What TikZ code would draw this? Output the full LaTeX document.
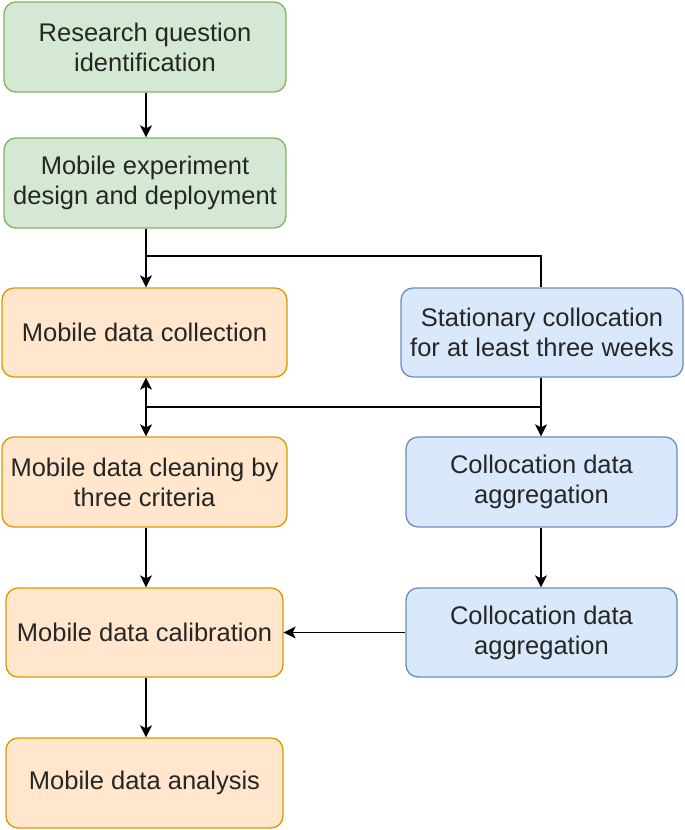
\documentclass[tikz,border=0pt]{standalone}
\usepackage{fontspec}
\setmainfont{Liberation Sans}
\usetikzlibrary{arrows.meta}
\definecolor{gfill}{HTML}{D5E8D4}\definecolor{gline}{HTML}{82B366}
\definecolor{ofill}{HTML}{FFE6CC}\definecolor{oline}{HTML}{D79B00}
\definecolor{bfill}{HTML}{DAE8FC}\definecolor{bline}{HTML}{6C8EBF}
\begin{document}
\begin{tikzpicture}[x=1pt,y=-1pt,
  box/.style={rounded corners=12pt,line width=1.3pt,align=center,inner sep=0pt},
  gbox/.style={box,fill=gfill,draw=gline},
  obox/.style={box,fill=ofill,draw=oline},
  bbox/.style={box,fill=bfill,draw=bline},
  lbl/.style={align=center,font=\fontsize{25.5}{30}\selectfont,text=black!85,inner sep=0pt},
  conn/.style={line width=1.7pt,black},
  arr/.style={conn,-{Stealth[length=12pt,width=12pt,inset=3pt]}}]
\useasboundingbox (0,0) rectangle (685,830);
\newcommand{\bx}[6]{\node[#1,minimum width=#4-#3,minimum height=#6-#5] (#2) at ({(#3+#4)/2},{(#5+#6)/2}) {};}
\bx{gbox}{g1}{4}{286}{2}{92}
\bx{gbox}{g2}{4}{286}{138}{228}
\bx{obox}{o1}{2}{287}{288}{377}
\bx{bbox}{b1}{401}{683}{288}{377}
\bx{obox}{o2}{2}{287}{437}{527}
\bx{bbox}{b2}{406}{677}{437}{527}
\bx{obox}{o3}{6}{283}{588}{677}
\bx{bbox}{b3}{406}{677}{588}{677}
\bx{obox}{o4}{6}{283}{738}{828}
\node[lbl] at (g1) {Research question\\identification};
\node[lbl] at (g2) {Mobile experiment\\design and deployment};
\node[lbl] at (o1) {Mobile data collection};
\node[lbl] at (b1) {Stationary collocation\\for at least three weeks};
\node[lbl] at (o2) {Mobile data cleaning by\\three criteria};
\node[lbl] at (b2) {Collocation data\\aggregation};
\node[lbl] at (o3) {Mobile data calibration};
\node[lbl] at (b3) {Collocation data\\aggregation};
\node[lbl] at (o4) {Mobile data analysis};
\coordinate (j1) at (146,256);
\coordinate (j2) at (541,407);
\coordinate (j3) at (146,407);
\draw[arr] (j1|-g1.south) -- (j1|-g2.north);
\draw[arr] (j1|-g2.south) -- (j1|-o1.north);
\draw[conn] (j1) -| (j2|-b1.north);
\draw[conn] (j2|-b1.south) -- (j2) -- (j3);
\draw[arr] (j3) -- (j3|-o1.south);
\draw[arr] (j3) -- (j3|-o2.north);
\draw[arr] (j2) -- (j2|-b2.north);
\draw[arr] (j3|-o2.south) -- (j3|-o3.north);
\draw[arr] (j2|-b2.south) -- (j2|-b3.north);
\draw[arr] (b3.west) -- (o3.east);
\draw[arr] (j3|-o3.south) -- (j3|-o4.north);
\end{tikzpicture}
\end{document}
